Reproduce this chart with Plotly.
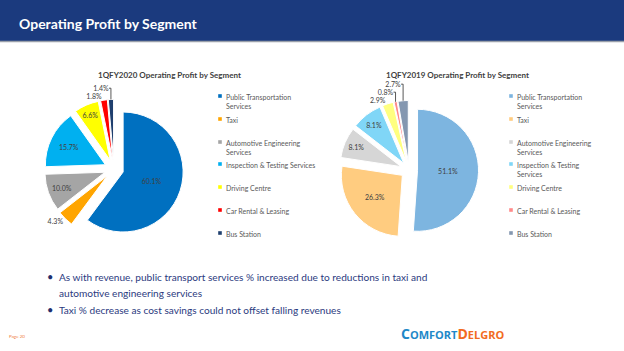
import plotly.graph_objects as go

W, H = 624, 351

segments = ["Public Transportation Services", "Taxi", "Automotive Engineering Services",
            "Inspection & Testing Services", "Driving Centre", "Car Rental & Leasing", "Bus Station"]
values_2020 = [60.1, 4.3, 10.0, 15.7, 6.6, 1.8, 1.4]
values_2019 = [51.1, 26.3, 8.1, 8.1, 2.9, 0.8, 2.7]
colors_2020 = ["#0070C0", "#FFA500", "#A5A5A5", "#00B0F0", "#FFFF00", "#FF0000", "#1F3F6E"]
colors_2019 = ["#7DB5E0", "#FFCC80", "#D6D6D6", "#80D6F7", "#FFFF80", "#FF8A8A", "#8497B0"]
legend_2020 = ["Public Transportation<br>Services", "Taxi", "Automotive Engineering<br>Services",
               "Inspection & Testing Services", "Driving Centre", "Car Rental & Leasing", "Bus Station"]
legend_2019 = ["Public Transportation<br>Services", "Taxi", "Automotive Engineering<br>Services",
               "Inspection & Testing<br>Services", "Driving Centre", "Car Rental & Leasing", "Bus Station"]
pos_2020 = ["inside", "outside", "inside", "inside", "inside", "outside", "outside"]
pos_2019 = ["inside", "inside", "inside", "inside", "outside", "outside", "outside"]
title_2020 = "1QFY2020 Operating Profit by Segment"
title_2019 = "1QFY2019 Operating Profit by Segment"
bullets = [["As with revenue, public transport services % increased due to reductions in taxi and",
            "automotive engineering services"],
           ["Taxi % decrease as cost savings could not offset falling revenues"]]

FONT = "Lato"


def px(x):
    return x / W


def py(y):
    return 1 - y / H


def domain(cx, cy, r, pull):
    half = r * (1 + pull)
    return dict(x=[px(cx - half), px(cx + half)], y=[py(cy + half), py(cy - half)])


fig = go.Figure()

fig.add_trace(go.Pie(
    labels=segments, values=values_2020, sort=False, direction="clockwise", rotation=0,
    marker=dict(colors=colors_2020, line=dict(color="white", width=1)),
    pull=[0.16] * 7, text=[f"{v:.1f}%" for v in values_2020], textinfo="text",
    textposition=pos_2020, insidetextorientation="horizontal",
    textfont=dict(family=FONT, size=7, color="#404040"),
    insidetextfont=dict(family=FONT, size=7, color="#404040"),
    outsidetextfont=dict(family=FONT, size=7, color="#404040"),
    domain=domain(114, 169, 60, 0.16), showlegend=False, hoverinfo="label+text"))

fig.add_trace(go.Pie(
    labels=segments, values=values_2019, sort=False, direction="clockwise", rotation=0,
    marker=dict(colors=colors_2019, line=dict(color="white", width=1)),
    pull=[0.14] * 7, text=[f"{v:.1f}%" for v in values_2019], textinfo="text",
    textposition=pos_2019, insidetextorientation="horizontal",
    textfont=dict(family=FONT, size=7, color="#404040"),
    insidetextfont=dict(family=FONT, size=7, color="#404040"),
    outsidetextfont=dict(family=FONT, size=7, color="#404040"),
    domain=domain(409, 170, 61, 0.14), showlegend=False, hoverinfo="label+text"))

shapes = []
annotations = []

# header band
shapes.append(dict(type="rect", xref="paper", yref="paper", x0=0, x1=1, y0=py(41), y1=py(0),
                   fillcolor="#1B3A7E", line=dict(width=0), layer="below"))
shapes.append(dict(type="line", xref="paper", yref="paper", x0=0, x1=1, y0=py(41.5), y1=py(41.5),
                   line=dict(color="#9AA0AA", width=1.5)))
annotations.append(dict(text="<b>Operating Profit by Segment</b>", x=px(17), y=py(23), xref="paper",
                        yref="paper", xanchor="left", yanchor="middle", showarrow=False,
                        font=dict(family=FONT, size=14, color="white")))

# chart titles
for t, cx in [(title_2020, 169), (title_2019, 458)]:
    annotations.append(dict(text=f"<b>{t}</b>", x=px(cx), y=py(75), xref="paper", yref="paper",
                            xanchor="center", yanchor="middle", showarrow=False,
                            font=dict(family=FONT, size=8, color="#404040")))

# legends
rows = [96, 119, 142, 164, 187, 210, 233]
for labels, cols, mx in [(legend_2020, colors_2020, 220), (legend_2019, colors_2019, 511)]:
    for lab, col, ry in zip(labels, cols, rows):
        shapes.append(dict(type="rect", xref="paper", yref="paper", x0=px(mx - 1.8), x1=px(mx + 1.8),
                           y0=py(ry + 1.8), y1=py(ry - 1.8), fillcolor=col, line=dict(width=0)))
        annotations.append(dict(text=lab, x=px(mx + 4), y=py(ry - 5), xref="paper", yref="paper",
                                xanchor="left", yanchor="top", align="left", showarrow=False,
                                font=dict(family=FONT, size=7, color="#595959")))

# bullets
line_y = [[277, 293], [310]]
for bl, ys in zip(bullets, line_y):
    annotations.append(dict(text="•", x=px(45), y=py(ys[0] - 1), xref="paper", yref="paper",
                            xanchor="left", yanchor="middle", showarrow=False,
                            font=dict(family=FONT, size=11, color="#1F2F6E")))
    for ln, yy in zip(bl, ys):
        annotations.append(dict(text=ln, x=px(57), y=py(yy), xref="paper", yref="paper",
                                xanchor="left", yanchor="middle", showarrow=False,
                                font=dict(family=FONT, size=10.1, color="#2B3A80")))

# footer
annotations.append(dict(text="Page 20", x=px(7), y=py(336), xref="paper", yref="paper",
                        xanchor="left", yanchor="middle", showarrow=False,
                        font=dict(family=FONT, size=4.5, color="#F08040")))
annotations.append(dict(
    text="<b><span style='font-size:14px'>C</span>OMFORT"
         "<span style='font-size:14px;color:#F26B21'>D</span><span style='color:#F26B21'>ELGRO</span></b>",
    x=px(506), y=py(333), xref="paper", yref="paper", xanchor="right", yanchor="middle",
    showarrow=False, font=dict(family="Open Sans", size=11, color="#1E88C8")))

fig.update_layout(width=W, height=H, margin=dict(l=0, r=0, t=0, b=0), paper_bgcolor="white",
                  plot_bgcolor="white", shapes=shapes, annotations=annotations)

fig.write_html("out.html")
